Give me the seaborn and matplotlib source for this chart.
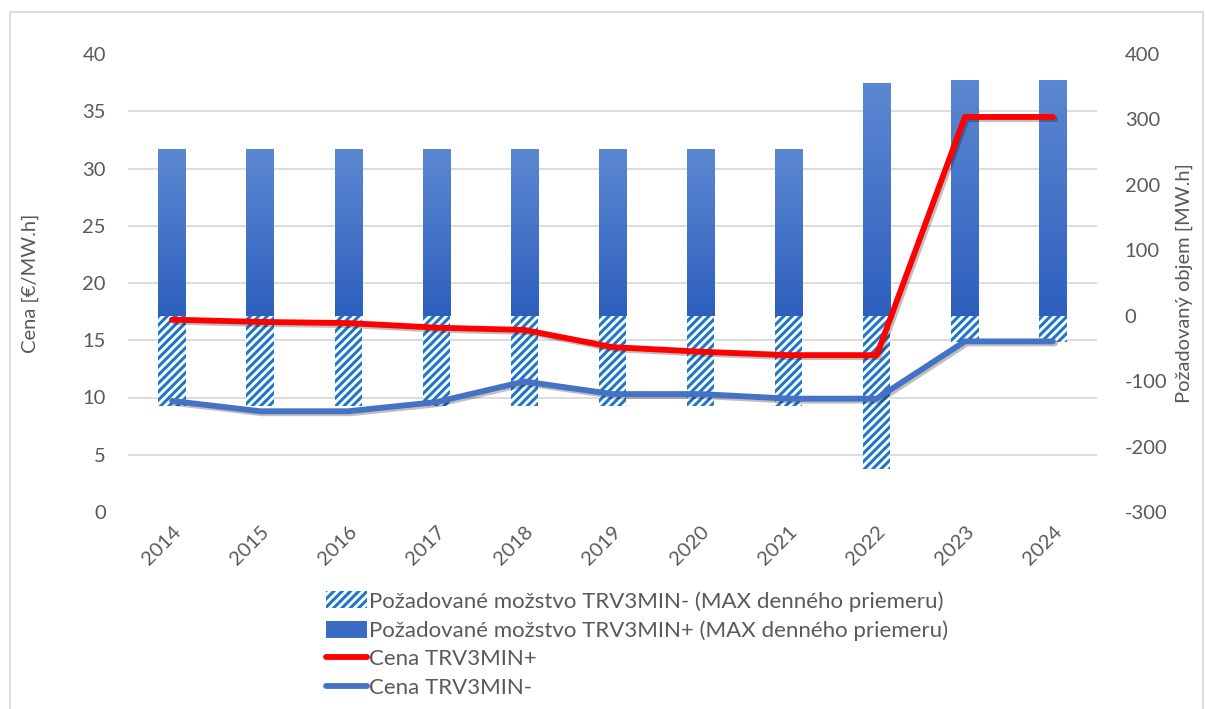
import numpy as np
import pandas as pd
import seaborn as sns
import matplotlib as mpl
import matplotlib.pyplot as plt
from matplotlib.patches import Patch, Rectangle
from matplotlib.lines import Line2D
import matplotlib.patheffects as pe

sns.set_style("white")
plt.rcParams['font.family'] = ['Lato', 'DejaVu Sans']
plt.rcParams['hatch.linewidth'] = 2.2
plt.rcParams['axes.unicode_minus'] = False

years = ['2014', '2015', '2016', '2017', '2018', '2019', '2020', '2021', '2022', '2023', '2024']
vol_plus = [255, 255, 255, 255, 255, 255, 255, 255, 356, 360, 360]
vol_minus = [-138, -138, -138, -138, -138, -138, -138, -138, -235, -40, -40]
price_plus = [16.8, 16.6, 16.5, 16.1, 15.9, 14.4, 14.0, 13.7, 13.7, 34.5, 34.5]
price_minus = [9.7, 8.8, 8.8, 9.6, 11.4, 10.3, 10.3, 9.9, 9.9, 14.9, 14.9]

lbl_minus = "Požadované možstvo TRV3MIN- (MAX denného priemeru)"
lbl_plus = "Požadované možstvo TRV3MIN+ (MAX denného priemeru)"
lbl_cplus = "Cena TRV3MIN+"
lbl_cminus = "Cena TRV3MIN-"

df = pd.DataFrame({"year": years, "plus": vol_plus, "minus": vol_minus,
                   "cplus": price_plus, "cminus": price_minus})
df["pos"] = np.arange(len(df))

txt = '#595959'
hatch_blue = '#1f77c9'
fs = 14.5

fig = plt.figure(figsize=(12.06, 7.09), dpi=100)
ax = fig.add_axes([128 / 1206, 1 - 512 / 709, (1097 - 128) / 1206, (512 - 54) / 709])

# bars on volume scale (right side)
sns.barplot(data=df, x="year", y="minus", ax=ax, width=0.31, color='white',
            edgecolor=hatch_blue, linewidth=0, hatch='////', zorder=2)
sns.barplot(data=df, x="year", y="plus", ax=ax, width=0.31, color='#3a6cc6',
            linewidth=0, zorder=2)

# gradient fill on the positive bars
grad = np.linspace(0, 1, 256).reshape(-1, 1)
cmap = mpl.colors.LinearSegmentedColormap.from_list("g", ['#5c88d2', '#2d5fbe'])
for bar in ax.patches[len(years):]:
    x0, y0 = bar.get_x(), bar.get_y()
    w, h = bar.get_width(), bar.get_height()
    im = ax.imshow(grad, extent=[x0, x0 + w, y0, y0 + h], aspect='auto',
                   cmap=cmap, zorder=2.5)
    im.set_clip_path(bar)

# price lines on left scale
ax2 = ax.twinx()
shadow = [pe.SimpleLineShadow(offset=(1.5, -1.5), alpha=0.25), pe.Normal()]
sns.lineplot(data=df, x="pos", y="cplus", ax=ax2, color='#ff0000', linewidth=4.2,
             solid_capstyle='round', path_effects=shadow)
sns.lineplot(data=df, x="pos", y="cminus", ax=ax2, color='#4472c4', linewidth=4.2,
             solid_capstyle='round', path_effects=shadow)

ax.set_xlim(-0.5, len(years) - 0.5)
ax.set_ylim(-300, 400)
ax.yaxis.tick_right()
ax.yaxis.set_label_position('right')
ax.set_yticks(np.arange(-300, 401, 100))
ax.set_yticks(np.arange(-300, 401, 87.5), minor=True)
ax.yaxis.set_minor_formatter(mpl.ticker.NullFormatter())
ax.grid(which='minor', axis='y', color='#d9d9d9', linewidth=1.3, zorder=0)
ax.set_axisbelow(True)
ax.tick_params(axis='y', which='both', length=0, labelsize=fs, colors=txt, pad=20,
               left=False, labelleft=False, right=True, labelright=True)
ax.set_ylabel("Požadovaný objem [MW.h]", fontsize=fs, color=txt, labelpad=6)
ax.set_xlabel("")
ax.tick_params(axis='x', length=0, labelsize=fs, colors=txt, pad=8)
for t in ax.get_xticklabels():
    t.set_rotation(45)
    t.set_ha('right')
    t.set_rotation_mode('anchor')
for s in ax.spines.values():
    s.set_visible(False)

ax2.set_ylim(0, 40)
ax2.set_yticks(np.arange(0, 41, 5))
ax2.yaxis.tick_left()
ax2.yaxis.set_label_position('left')
ax2.tick_params(axis='y', length=0, labelsize=fs, colors=txt, pad=16,
                right=False, labelright=False, left=True, labelleft=True)
ax2.set_ylabel("Cena [€/MW.h]", fontsize=fs, color=txt, labelpad=31)
ax2.set_xlabel("")
ax2.set_xlim(-0.5, len(years) - 0.5)
for s in ax2.spines.values():
    s.set_visible(False)

handles = [
    Patch(facecolor='white', edgecolor=hatch_blue, hatch='////', linewidth=0, label=lbl_minus),
    Patch(facecolor='#3a6cc6', linewidth=0, label=lbl_plus),
    Line2D([], [], color='#ff0000', linewidth=4.2, solid_capstyle='round', label=lbl_cplus),
    Line2D([], [], color='#4472c4', linewidth=4.2, solid_capstyle='round', label=lbl_cminus),
]
leg = fig.legend(handles=handles, loc='upper left', bbox_to_anchor=(315 / 1206, 1 - 580 / 709),
                 frameon=False, fontsize=16, handlelength=1.85, handleheight=0.8,
                 handletextpad=0.1, labelspacing=0.38, borderpad=0)
for t in leg.get_texts():
    t.set_color(txt)

# outer chart border
fig.add_artist(Rectangle((10 / 1206, -0.01), 1193 / 1206, 1 - 12 / 709 + 0.01,
                         transform=fig.transFigure, fill=False,
                         edgecolor='#d9d9d9', linewidth=1.3))

fig.savefig("out.png", dpi=100)
